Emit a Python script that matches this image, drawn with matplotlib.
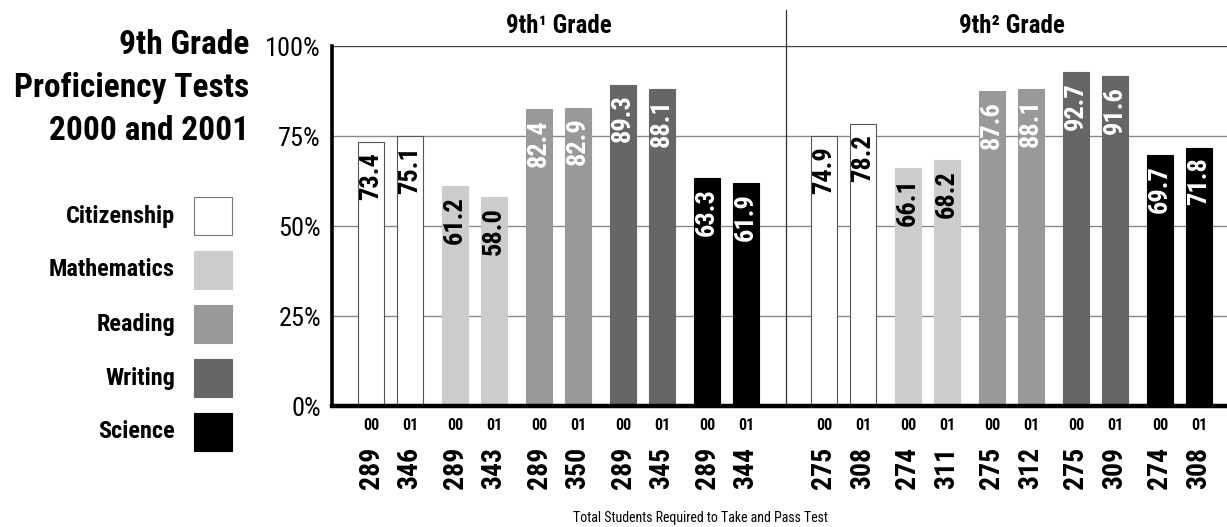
import matplotlib
matplotlib.use("Agg")
import matplotlib.pyplot as plt
from matplotlib.patches import Rectangle
import numpy as np

plt.rcParams["font.family"] = ["Roboto Condensed", "DejaVu Sans"]

# data
subjects = ["Citizenship", "Mathematics", "Reading", "Writing", "Science"]
colors = ["#ffffff", "#cccccc", "#999999", "#666666", "#000000"]
text_colors = ["black", "black", "white", "white", "white"]
grades = ["9th\u00b9 Grade", "9th\u00b2 Grade"]
years = ["00", "01"]

pct_g1_00 = [73.4, 61.2, 82.4, 89.3, 63.3]
pct_g1_01 = [75.1, 58.0, 82.9, 88.1, 61.9]
pct_g2_00 = [74.9, 66.1, 87.6, 92.7, 69.7]
pct_g2_01 = [78.2, 68.2, 88.1, 91.6, 71.8]

n_g1_00 = [289, 289, 289, 289, 289]
n_g1_01 = [346, 343, 350, 345, 344]
n_g2_00 = [275, 274, 275, 275, 274]
n_g2_01 = [308, 311, 312, 309, 308]

yticks = [0, 25, 50, 75, 100]

W, H = 1227, 527
fig = plt.figure(figsize=(W / 100, H / 100), dpi=100)

# main axes: left 332px, 0% at y=406, 100% at y=46
ax = fig.add_axes([332 / W, (H - 406) / H, (W - 332) / W, 360 / H])
ax.set_xlim(0, (W - 332) / 39)
ax.set_ylim(0, 100)

subj_step = 84 / 39
group_off = 453 / 39
bw = 26 / 39

for y in [25, 50, 75]:
    ax.axhline(y, color="#8a8a8a", lw=1.0, zorder=0)
ax.axhline(100, color="#444444", lw=1.0, zorder=0)

groups = [(pct_g1_00, pct_g1_01, n_g1_00, n_g1_01),
          (pct_g2_00, pct_g2_01, n_g2_00, n_g2_01)]

for g, (p00, p01, c00, c01) in enumerate(groups):
    for yi, (pv, cv) in enumerate([(p00, c00), (p01, c01)]):
        xs = 1.0 + g * group_off + np.arange(5) * subj_step + yi
        edges = ["#555555" if c == "#ffffff" else c for c in colors]
        ax.bar(xs, pv, width=bw, color=colors, edgecolor=edges, linewidth=0.8, zorder=2)
        for x, v, n, tc in zip(xs, pv, cv, text_colors):
            ax.text(x, v - 2.8, f"{v:.1f}", rotation=90, ha="center", va="top",
                    color=tc, fontsize=19, fontweight="bold", zorder=3)
            ax.text(x, -5.4, years[yi], ha="center", va="center", fontsize=11.5,
                    fontweight="bold", clip_on=False)
            ax.text(x, -17.2, str(n), rotation=90, ha="center", va="center",
                    fontsize=20, fontweight="bold", clip_on=False)

# separator and group headers
sep = (786 - 332) / 39
ax.plot([sep, sep], [0, (406 - 10) / 3.6], color="#333333", lw=0.9,
        clip_on=False, zorder=1)
for g, name in enumerate(grades):
    cx = 1.0 + g * group_off + (4 * subj_step + 1) / 2
    ax.text(cx, (406 - 26) / 3.6, name, ha="center", va="center",
            fontsize=18, fontweight="bold", clip_on=False)

ax.set_yticks(yticks)
ax.set_yticklabels([f"{t}%" for t in yticks], fontsize=19)
ax.tick_params(axis="y", length=0, pad=8)
ax.set_xticks([])
for s in ["top", "right"]:
    ax.spines[s].set_visible(False)
ax.spines["left"].set_linewidth(2.6)
ax.spines["bottom"].set_linewidth(3.2)
ax.spines["left"].set_zorder(4)
ax.spines["bottom"].set_zorder(4)

# left panel: title and legend (pixel coordinates)
lax = fig.add_axes([0, 0, 332 / W, 1])
lax.set_xlim(0, 332)
lax.set_ylim(H, 0)
lax.axis("off")
title_lines = ["9th Grade", "Proficiency Tests", "2000 and 2001"]
for i, t in enumerate(title_lines):
    lax.text(249, 45 + i * 43, t, ha="right", va="center", fontsize=24,
             fontweight="bold")
for i, (s, c) in enumerate(zip(subjects, colors)):
    yc = 216 + i * 54
    lax.add_patch(Rectangle((194, yc - 19), 38, 38, facecolor=c,
                            edgecolor="#777777" if c == "#ffffff" else c, lw=0.8))
    lax.text(175, yc, s, ha="right", va="center", fontsize=17.5, fontweight="bold")

fig.text(700 / W, 1 - 518 / H, "Total Students Required to Take and Pass Test",
         ha="center", va="center", fontsize=10)

fig.savefig("out.png", dpi=100)
